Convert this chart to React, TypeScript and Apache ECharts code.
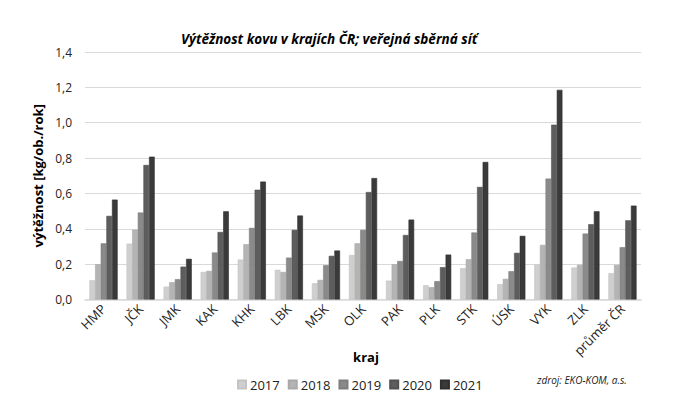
import React, { useEffect, useRef } from "react";
import * as echarts from "echarts";

const categories = ["HMP", "JČK", "JMK", "KAK", "KHK", "LBK", "MSK", "OLK", "PAK", "PLK", "STK", "ÚSK", "VYK", "ZLK", "průměr ČR"];
const years = ["2017", "2018", "2019", "2020", "2021"];
const v2017 = [0.109, 0.316, 0.073, 0.156, 0.226, 0.168, 0.092, 0.252, 0.107, 0.081, 0.177, 0.087, 0.198, 0.181, 0.149];
const v2018 = [0.2, 0.395, 0.098, 0.162, 0.313, 0.156, 0.111, 0.318, 0.2, 0.07, 0.228, 0.117, 0.309, 0.196, 0.196];
const v2019 = [0.318, 0.492, 0.115, 0.266, 0.405, 0.237, 0.194, 0.394, 0.218, 0.104, 0.379, 0.16, 0.684, 0.373, 0.296];
const v2020 = [0.473, 0.761, 0.186, 0.382, 0.621, 0.394, 0.247, 0.608, 0.365, 0.183, 0.637, 0.264, 0.989, 0.426, 0.448];
const v2021 = [0.565, 0.808, 0.23, 0.499, 0.667, 0.475, 0.277, 0.687, 0.452, 0.254, 0.778, 0.36, 1.186, 0.499, 0.531];
const seriesValues = [v2017, v2018, v2019, v2020, v2021];
const colors = ["#cfcfcf", "#b4b5b3", "#8a8a8a", "#5d5d5d", "#3a3a3a"];
const borders = ["#c4c4c4", "#a9aaa8", "#7e7e7e", "#525252", "#2f2f2f"];

const FONT = "Open Sans";

export default function App() {
  const ref = useRef<HTMLDivElement>(null);
  useEffect(() => {
    const chart = echarts.init(ref.current!, null, { renderer: "svg" });
    chart.setOption({
      animation: false,
      backgroundColor: "#ffffff",
      textStyle: { fontFamily: FONT },
      title: {
        text: "Výtěžnost kovu v krajích ČR; veřejná sběrná síť",
        left: 176,
        top: 27,
        textStyle: { fontFamily: FONT, fontSize: 13.5, fontWeight: "bold", fontStyle: "italic", color: "#000" },
      },
      legend: {
        data: years,
        left: 232,
        top: 373,
        itemWidth: 8,
        itemHeight: 8,
        itemGap: 8,
        icon: "rect",
        textStyle: { fontFamily: FONT, fontSize: 13, color: "#222", padding: [0, 0, 0, -1] },
      },
      graphic: [
        {
          type: "text",
          x: 366,
          y: 357,
          style: {
            text: "kraj",
            fontFamily: FONT,
            fontSize: 13,
            fontWeight: "bold",
            fill: "#000",
            align: "center",
            verticalAlign: "middle",
          },
        },
        {
          type: "text",
          left: 537,
          top: 375,
          style: { text: "zdroj: EKO-KOM, a.s.", fontFamily: FONT, fontSize: 10, fontStyle: "italic", fill: "#222" },
        },
      ],
      grid: { left: 85, right: 59, top: 52, bottom: 111.5, containLabel: false },
      xAxis: {
        type: "category",
        data: categories,
        axisLine: { lineStyle: { color: "#d9d9d9", width: 1.5 } },
        axisTick: { show: false },
        axisLabel: { rotate: 45, interval: 0, fontFamily: FONT, fontSize: 13, color: "#222", margin: 7 },
      },
      yAxis: {
        type: "value",
        min: 0,
        max: 1.4,
        interval: 0.2,
        name: "výtěžnost [kg/ob./rok]",
        nameLocation: "middle",
        nameGap: 38,
        nameTextStyle: { fontFamily: FONT, fontSize: 13, fontWeight: "bold", color: "#000" },
        axisLine: { show: false },
        axisTick: { show: false },
        splitLine: { lineStyle: { color: "#d9d9d9", width: 1.2 } },
        axisLabel: {
          fontFamily: FONT,
          fontSize: 12,
          color: "#222",
          margin: 13,
          formatter: (v: number) => v.toFixed(1).replace(".", ","),
        },
      },
      series: years.map((y, i) => ({
        name: y,
        type: "bar",
        data: seriesValues[i],
        barGap: "0%",
        barCategoryGap: "24%",
        itemStyle: { color: colors[i], borderColor: borders[i], borderWidth: 0.6 },
      })),
    });
    return () => chart.dispose();
  }, []);
  return <div ref={ref} style={{ width: 700, height: 411, margin: -8 }} />;
}
